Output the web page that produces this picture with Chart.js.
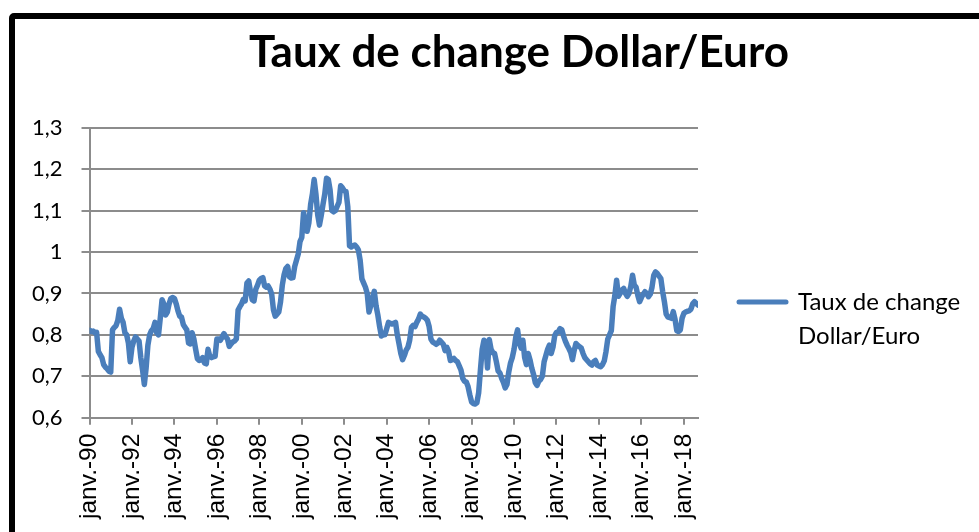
<!DOCTYPE html>
<html><head><meta charset="utf-8">
<script src="https://cdn.jsdelivr.net/npm/chart.js@4.4.1/dist/chart.umd.min.js"></script>
<style>
html,body{margin:0;padding:0;background:#fff;overflow:hidden;width:979px;height:532px}
#wrap{position:absolute;left:0;top:0;width:979px;height:532px}
#frame{position:absolute;left:9px;top:13px;width:1100px;height:700px;border:6px solid #000;border-radius:5px;box-sizing:border-box;pointer-events:none}
</style></head><body>
<div id="wrap"><canvas id="c" width="979" height="532"></canvas></div>
<div id="frame"></div>
<script>
const chartTitle = 'Taux de change Dollar/Euro';
const seriesName = ['Taux de change', 'Dollar/Euro'];
// monthly values, Jan 1990 onward
const rates1990s = [
  .811,.808,.809,.805,.806,.760,.752,.745,.728,.722,.718,.712,
  .710,.812,.818,.822,.835,.862,.840,.830,.805,.800,.780,.735,
  .770,.785,.795,.790,.785,.745,.715,.680,.720,.775,.800,.810,
  .815,.830,.805,.800,.840,.885,.875,.848,.855,.875,.888,.890,
  .888,.875,.858,.845,.843,.825,.818,.812,.780,.778,.805,.790,
  .765,.742,.738,.740,.745,.732,.730,.765,.748,.745,.747,.748,
  .790,.790,.787,.795,.803,.795,.790,.772,.778,.783,.785,.790,
  .860,.868,.875,.886,.882,.925,.930,.905,.885,.882,.910,.920,
  .932,.936,.938,.918,.915,.918,.910,.898,.860,.845,.850,.855,
  .880,.920,.945,.960,.965,.940,.937,.938,.965,.980,.995,1.025
];
const rates2000s = [
  1.035,1.095,1.075,1.050,1.070,1.115,1.140,1.175,1.140,1.090,1.065,1.088,
  1.115,1.140,1.178,1.175,1.150,1.100,1.097,1.100,1.110,1.120,1.160,1.155,
  1.148,1.146,1.110,1.015,1.012,1.015,1.017,1.012,1.005,0.980,0.935,0.925,
  .915,.900,.855,.870,.890,.905,.870,.848,.820,.797,.800,.800,
  .815,.830,.828,.826,.828,.830,.800,.778,.755,.740,.750,.763,
  .770,.787,.818,.823,.820,.830,.838,.850,.845,.843,.840,.835,
  .820,.790,.783,.780,.777,.780,.787,.782,.777,.762,.770,.760,
  .738,.740,.743,.738,.735,.725,.715,.695,.688,.686,.675,.655,
  .638,.634,.633,.636,.660,.715,.765,.787,.783,.720,.789,.765,
  .757,.755,.735,.713,.708,.695,.685,.672,.680,.710,.732,.745
];
const rates2010s = [
  .765,.795,.812,.780,.768,.787,.745,.728,.755,.740,.720,.705,
  .685,.678,.688,.692,.700,.735,.750,.765,.775,.755,.770,.798,
  .806,.807,.815,.812,.797,.785,.775,.767,.758,.740,.762,.779,
  .775,.771,.768,.755,.745,.740,.735,.730,.727,.735,.738,.727,
  .725,.723,.728,.737,.760,.790,.800,.810,.868,.895,.932,.893,
  .900,.908,.912,.900,.893,.900,.917,.944,.920,.915,.895,.880,
  .890,.898,.904,.900,.892,.898,.915,.944,.952,.948,.942,.936,
  .905,.880,.850,.843,.842,.840,.856,.838,.810,.808,.812,.840,
  .852,.855,.857,.858,.862,.875,.880,.876,.872
];
const tickLabels = ['janv.-90','janv.-92','janv.-94','janv.-96','janv.-98','janv.-00','janv.-02','janv.-04','janv.-06','janv.-08','janv.-10','janv.-12','janv.-14','janv.-16','janv.-18'];
const monthsPerTick = 24;
const yTickValues = [0.6,0.7,0.8,0.9,1.0,1.1,1.2,1.3];

const values = rates1990s.concat(rates2000s, rates2010s);
const points = values.map((v, i) => ({x: i, y: v}));

const lineColor = '#4a7ebb';
const gridColor = '#8c8c8c';
const legendFontSize = 24;

const layoutTweaks = {
  id: 'layoutTweaks',
  beforeLayout(chart) {
    const lg = chart.legend;
    if (lg && !lg._fixedWidth) {
      const fit = lg.fit.bind(lg);
      lg.fit = function () { fit(); this.width = chart.width - 698; };
      lg._fixedWidth = true;
    }
  },
  afterLayout(chart) {
    const t = chart.titleBlock;
    if (t) {
      const d = 519 - (t.left + t.right) / 2;
      t.left += d; t.right += d;
    }
    const lg = chart.legend;
    if (lg && lg.columnSizes && lg.columnSizes.length) {
      const pad = lg.options.labels.padding;
      const cy = (lg.top + pad + lg.bottom - lg.columnSizes[0].height) / 2;
      const d = 302 - (cy + legendFontSize / 2);
      lg.top += d; lg.bottom += d;
    }
  }
};

new Chart(document.getElementById('c'), {
  type: 'line',
  data: {
    datasets: [{
      label: seriesName.join(' '),
      data: points,
      borderColor: lineColor,
      backgroundColor: lineColor,
      borderWidth: 5.5,
      pointRadius: 0,
      tension: 0,
      fill: false,
      borderJoinStyle: 'round',
      borderCapStyle: 'round'
    }]
  },
  options: {
    responsive: false,
    devicePixelRatio: 1,
    animation: false,
    layout: {padding: {left: 13, right: 0, top: 0, bottom: 4}},
    plugins: {
      tooltip: {enabled: false},
      title: {
        display: true,
        text: chartTitle,
        color: '#000',
        font: {family: 'Lato', weight: 'bold', size: 44, lineHeight: 1.2},
        padding: {top: 26, bottom: 49}
      },
      legend: {
        position: 'right',
        maxWidth: 400,
        labels: {
          usePointStyle: true,
          pointStyleWidth: 47,
          padding: 41,
          color: '#000',
          font: {family: 'Lato', size: legendFontSize, lineHeight: 1.42},
          generateLabels: () => [{
            text: seriesName,
            fillStyle: lineColor,
            strokeStyle: lineColor,
            lineWidth: 5,
            lineCap: 'round',
            pointStyle: 'line',
            hidden: false,
            datasetIndex: 0,
            fontColor: '#000'
          }]
        }
      }
    },
    scales: {
      x: {
        type: 'linear',
        min: 0,
        max: values.length - 1,
        afterBuildTicks: axis => { axis.ticks = tickLabels.map((_, k) => ({value: k * monthsPerTick})); },
        ticks: {
          autoSkip: false,
          maxRotation: 90,
          minRotation: 90,
          padding: 9,
          color: '#000',
          font: {family: 'Liberation Sans', size: 24.5},
          callback: v => tickLabels[Math.round(v / monthsPerTick)]
        },
        grid: {drawOnChartArea: false, drawTicks: true, tickLength: 7, color: gridColor, lineWidth: 2},
        border: {display: true, color: gridColor, width: 2}
      },
      y: {
        min: 0.6,
        max: 1.3,
        afterBuildTicks: axis => { axis.ticks = yTickValues.map(v => ({value: v})); },
        ticks: {
          padding: 19,
          color: '#000',
          font: {family: 'Lato', size: 22},
          callback: v => String(Math.round(v * 10) / 10).replace('.', ',')
        },
        grid: {color: gridColor, lineWidth: 2, tickLength: 8},
        border: {display: true, color: gridColor, width: 2}
      }
    }
  },
  plugins: [layoutTweaks]
});
</script>
</body></html>
